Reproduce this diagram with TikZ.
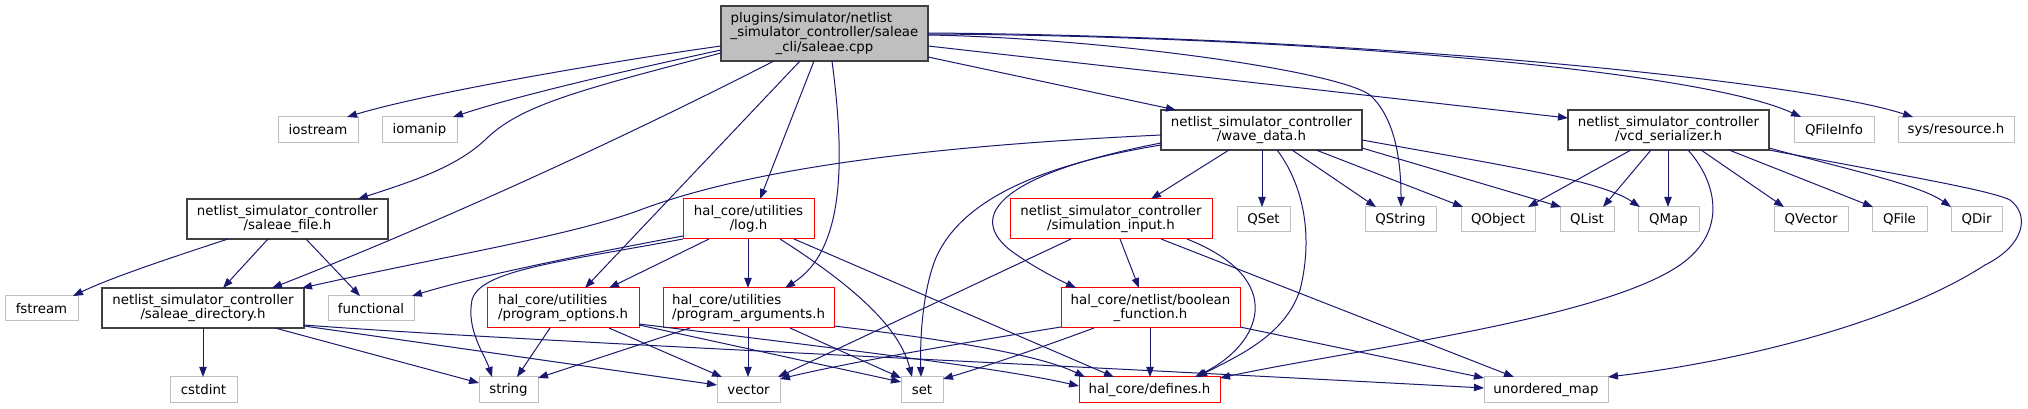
\documentclass[tikz,border=0pt]{standalone}
\usepackage{fontspec}
\setmainfont{DejaVu Sans}
\usepackage{calc}
\usetikzlibrary{arrows.meta,calc}
\definecolor{greyA}{HTML}{BFBFBF}
\definecolor{greyB}{HTML}{404040}
\definecolor{redB}{HTML}{FF0000}
\definecolor{edgeC}{HTML}{191970}
\tikzset{
  base/.style={rectangle, inner sep=0pt, outer sep=0pt, anchor=north west,
    font=\fontsize{10}{10.8}\selectfont, align=center, line width=0.75pt},
  wh/.style 2 args={minimum width={(#1)*0.75pt}, minimum height={(#2)*0.75pt}},
  sysnode/.style={base, draw=greyA, fill=white},
  hdrnode/.style={base, draw=greyB, fill=white, line width=1.1pt},
  rednode/.style={base, draw=redB, fill=white},
  mainnode/.style={base, draw=greyB, fill=greyA, line width=1.1pt},
  edge/.style={draw=edgeC, line width=0.75pt, -{Triangle[length=7.5pt,width=5.5pt]}}
}
\begin{document}
\begin{tikzpicture}[x=0.75pt,y=-0.75pt]
\fill[white] (0,0) rectangle (2028,409);
\useasboundingbox (0,0) rectangle (2028,409);
% row 0
\node[mainnode, wh={928-721}{61-6}] (main) at (721,6)
  {\makebox[\widthof{\_simulator\_controller/saleae}][l]{plugins/simulator/netlist}\\\_simulator\_controller/saleae\\\_cli/saleae.cpp};
% row 1
\node[sysnode, wh={358-278}{143-117}] (iostream) at (278,117) {iostream};
\node[sysnode, wh={457-382}{143-117}] (iomanip) at (382,117) {iomanip};
\node[hdrnode, wh={1362-1161}{150-110}] (wave) at (1161,110) {netlist\_simulator\_controller\\/wave\_data.h};
\node[hdrnode, wh={1769-1568}{150-110}] (vcd) at (1568,110) {netlist\_simulator\_controller\\/vcd\_serializer.h};
\node[sysnode, wh={1874-1794}{143-117}] (qfileinfo) at (1794,117) {QFileInfo};
\node[sysnode, wh={2014-1898}{143-117}] (sysres) at (1898,117) {sys/resource.h};
% row 2
\node[hdrnode, wh={388-187}{239-199}] (sfile) at (187,199) {netlist\_simulator\_controller\\/saleae\_file.h};
\node[rednode, wh={814-683}{239-199}] (logh) at (683,199) {hal\_core/utilities\\/log.h};
\node[rednode, wh={1212-1010}{239-199}] (siminput) at (1010,199) {netlist\_simulator\_controller\\/simulation\_input.h};
\node[sysnode, wh={1290-1237}{232-207}] (qset) at (1237,207) {QSet};
\node[sysnode, wh={1436-1365}{232-207}] (qstring) at (1365,207) {QString};
\node[sysnode, wh={1535-1461}{232-207}] (qobject) at (1461,207) {QObject};
\node[sysnode, wh={1614-1560}{232-207}] (qlist) at (1560,207) {QList};
\node[sysnode, wh={1699-1638}{232-207}] (qmap) at (1638,207) {QMap};
\node[sysnode, wh={1848-1774}{232-207}] (qvector) at (1774,207) {QVector};
\node[sysnode, wh={1927-1872}{232-207}] (qfile) at (1872,207) {QFile};
\node[sysnode, wh={2002-1951}{232-207}] (qdir) at (1951,207) {QDir};
% row 3
\node[sysnode, wh={78-5}{321-296}] (fstream) at (5,296) {fstream};
\node[hdrnode, wh={304-102}{328-288}] (sdir) at (102,288) {netlist\_simulator\_controller\\/saleae\_directory.h};
\node[sysnode, wh={414-328}{321-296}] (functional) at (328,296) {functional};
\node[rednode, wh={639-487}{328-288}] (popt) at (487,288)
  {\makebox[\widthof{/program\_options.h}][l]{hal\_core/utilities}\\/program\_options.h};
\node[rednode, wh={834-663}{328-288}] (parg) at (663,288)
  {\makebox[\widthof{/program\_arguments.h}][l]{hal\_core/utilities}\\/program\_arguments.h};
\node[rednode, wh={1240-1061}{328-288}] (boolf) at (1061,288) {hal\_core/netlist/boolean\\\_function.h};
% row 4
\node[sysnode, wh={237-170}{403-377}] (cstdint) at (170,377) {cstdint};
\node[sysnode, wh={538-479}{403-377}] (stringh) at (479,377) {string};
\node[sysnode, wh={780-717}{403-377}] (vector) at (717,377) {vector};
\node[sysnode, wh={943-901}{403-377}] (seth) at (901,377) {set};
\node[rednode, wh={1220-1079}{403-377}] (defines) at (1079,377) {hal\_core/defines.h};
\node[sysnode, wh={1608-1484}{403-377}] (umap) at (1484,377) {unordered\_map};

% ---- edges from main
\draw[edge] ($(main.north west)+(0,40)$) .. controls (620,60) and (430,92) .. ($(iostream.north west)+(347-278,0)$);
\draw[edge] ($(main.north west)+(0,44)$) .. controls (620,72) and (520,95) .. ($(iomanip.north west)+(453-382,0)$);
\draw[edge] ($(main.north west)+(0,47)$) .. controls (580,90) and (520,105) .. (485,140) .. controls (455,168) and (410,182) .. ($(sfile.north west)+(358-187,0)$);
\draw[edge] ($(main.north west)+(774-721,55)$) .. controls (600,150) and (420,230) .. ($(sdir.north west)+(272-102,0)$);
\draw[edge] ($(main.north west)+(800-721,55)$) -- ($(popt.north west)+(585-487,0)$);
\draw[edge] ($(main.north west)+(814-721,55)$) -- ($(logh.north west)+(760-683,0)$);
\draw[edge] ($(main.north west)+(832-721,55)$) .. controls (845,160) and (845,250) .. ($(parg.north west)+(785-663,0)$);
\draw[edge] ($(main.north west)+(928-721,51)$) -- ($(wave.north west)+(1176-1161,0)$);
\draw[edge] ($(main.north west)+(928-721,40)$) -- ($(vcd.north west)+(0,8)$);
\draw[edge] ($(main.north west)+(928-721,29)$) .. controls (1100,38) and (1335,70) .. (1370,95) .. controls (1395,118) and (1401,160) .. ($(qstring.north west)+(1401-1365,0)$);
\draw[edge] ($(main.north west)+(928-721,28)$) .. controls (1300,36) and (1700,70) .. ($(qfileinfo.north west)+(1801-1794,0)$);
\draw[edge] ($(main.north west)+(928-721,27)$) .. controls (1350,36) and (1800,80) .. ($(sysres.north west)+(1913-1898,0)$);
% ---- saleae_file
\draw[edge] ($(sfile.north west)+(228-187,40)$) .. controls (170,258) and (110,278) .. ($(fstream.north west)+(73-5,0)$);
\draw[edge] ($(sfile.north west)+(268-187,40)$) -- ($(sdir.north west)+(223-102,0)$);
\draw[edge] ($(sfile.north west)+(306-187,40)$) -- ($(functional.north west)+(360-328,0)$);
% ---- saleae_directory
\draw[edge] ($(sdir.north west)+(203-102,40)$) -- ($(cstdint.north west)+(203-170,0)$);
\draw[edge] ($(sdir.north west)+(275-102,40)$) -- ($(stringh.north west)+(0,6)$);
\draw[edge] ($(sdir.north west)+(202,38)$) -- ($(vector.north west)+(0,8)$);
\draw[edge] ($(sdir.north west)+(202,37)$) .. controls (500,340) and (1000,362) .. ($(umap.north west)+(0,11)$);
% ---- log.h
\draw[edge] ($(logh.north west)+(0,37)$) .. controls (580,255) and (470,278) .. ($(functional.north west)+(412-328,0)$);
\draw[edge] ($(logh.north west)+(0,40)$) .. controls (560,262) and (480,270) .. (472,300) .. controls (466,330) and (485,355) .. ($(stringh.north west)+(492-479,0)$);
\draw[edge] ($(logh.north west)+(709-683,40)$) -- ($(popt.north west)+(609-487,0)$);
\draw[edge] ($(logh.north west)+(748-683,40)$) -- ($(parg.north west)+(748-663,0)$);
\draw[edge] ($(logh.north west)+(780-683,40)$) .. controls (860,290) and (900,330) .. ($(seth.north west)+(912-901,0)$);
\draw[edge] ($(logh.north west)+(794-683,40)$) -- ($(defines.north west)+(1114-1079,0)$);
% ---- wave_data
\draw[edge] ($(wave.north west)+(0,25)$) .. controls (950,145) and (760,165) .. (640,210) .. controls (570,236) and (450,255) .. ($(sdir.north west)+(200,0)$);
\draw[edge] ($(wave.north west)+(0,33)$) .. controls (1020,170) and (960,210) .. (1010,250) .. controls (1030,265) and (1055,278) .. ($(boolf.north west)+(1076-1061,0)$);
\draw[edge] ($(wave.north west)+(0,35)$) .. controls (1040,165) and (960,200) .. (935,260) .. controls (922,295) and (920,340) .. ($(seth.north west)+(921-901,0)$);
\draw[edge] ($(wave.north west)+(1229-1161,40)$) -- ($(siminput.north west)+(1151-1010,0)$);
\draw[edge] ($(wave.north west)+(1262-1161,40)$) -- ($(qset.north west)+(1262-1237,0)$);
\draw[edge] ($(wave.north west)+(1277-1161,40)$) .. controls (1300,180) and (1315,230) .. (1300,290) .. controls (1285,335) and (1240,355) .. ($(defines.north west)+(1197-1079,0)$);
\draw[edge] ($(wave.north west)+(1292-1161,40)$) -- ($(qstring.north west)+(1376-1365,0)$);
\draw[edge] ($(wave.north west)+(1316-1161,40)$) -- ($(qobject.north west)+(1463-1461,0)$);
\draw[edge] ($(wave.north west)+(201,30)$) .. controls (1500,165) and (1600,180) .. ($(qmap.north west)+(1640-1638,0)$);
\draw[edge] ($(wave.north west)+(201,38)$) -- ($(qlist.north west)+(1561-1560,0)$);
% ---- vcd_serializer
\draw[edge] ($(vcd.north west)+(1631-1568,40)$) -- ($(qobject.north west)+(1528-1461,0)$);
\draw[edge] ($(vcd.north west)+(1651-1568,40)$) -- ($(qlist.north west)+(1603-1560,0)$);
\draw[edge] ($(vcd.north west)+(1668-1568,40)$) -- ($(qmap.north west)+(1668-1638,0)$);
\draw[edge] ($(vcd.north west)+(1688-1568,40)$) .. controls (1715,180) and (1730,230) .. (1680,265) .. controls (1600,320) and (1350,350) .. ($(defines.north west)+(141,1)$);
\draw[edge] ($(vcd.north west)+(1701-1568,40)$) -- ($(qvector.north west)+(1784-1774,0)$);
\draw[edge] ($(vcd.north west)+(1729-1568,40)$) -- ($(qfile.north west)+(1,0)$);
\draw[edge] ($(vcd.north west)+(201,38)$) .. controls (1850,170) and (1920,185) .. ($(qdir.north west)+(0,0)$);
\draw[edge] ($(vcd.north west)+(201,40)$) .. controls (1900,175) and (1990,190) .. (2010,200) .. controls (2030,215) and (2025,245) .. (1985,265) .. controls (1900,320) and (1750,360) .. ($(umap.north west)+(124,0)$);
% ---- simulation_input
\draw[edge] ($(siminput.north west)+(1071-1010,40)$) -- ($(vector.north west)+(778-717,0)$);
\draw[edge] ($(siminput.north west)+(1120-1010,40)$) -- ($(boolf.north west)+(1139-1061,0)$);
\draw[edge] ($(siminput.north west)+(1187-1010,40)$) .. controls (1290,280) and (1260,345) .. ($(defines.north west)+(1195-1079,0)$);
\draw[edge] ($(siminput.north west)+(1161-1010,40)$) -- ($(umap.north west)+(1514-1484,0)$);
% ---- boolean_function
\draw[edge] ($(boolf.north west)+(0,39)$) .. controls (980,340) and (850,362) .. ($(vector.north west)+(63,2)$);
\draw[edge] ($(boolf.north west)+(1094-1061,40)$) .. controls (1040,348) and (990,365) .. ($(seth.north west)+(42,2)$);
\draw[edge] ($(boolf.north west)+(1150-1061,40)$) -- ($(defines.north west)+(1150-1079,0)$);
\draw[edge] ($(boolf.north west)+(179,39)$) -- ($(umap.north west)+(0,1)$);
% ---- program_options
\draw[edge] ($(popt.north west)+(550-487,40)$) -- ($(stringh.north west)+(517-479,0)$);
\draw[edge] ($(popt.north west)+(609-487,40)$) -- ($(vector.north west)+(722-717,0)$);
\draw[edge] ($(popt.north west)+(152,37)$) -- ($(seth.north west)+(0,5)$);
\draw[edge] ($(popt.north west)+(152,36)$) .. controls (850,350) and (1000,368) .. ($(defines.north west)+(0,9)$);
% ---- program_arguments
\draw[edge] ($(parg.north west)+(690-663,40)$) -- ($(stringh.north west)+(59,1)$);
\draw[edge] ($(parg.north west)+(748-663,40)$) -- ($(vector.north west)+(748-717,0)$);
\draw[edge] ($(parg.north west)+(790-663,40)$) -- ($(seth.north west)+(0,1)$);
\draw[edge] ($(parg.north west)+(171,38)$) .. controls (950,340) and (1040,355) .. ($(defines.north west)+(1085-1079,0)$);
\end{tikzpicture}
\end{document}
